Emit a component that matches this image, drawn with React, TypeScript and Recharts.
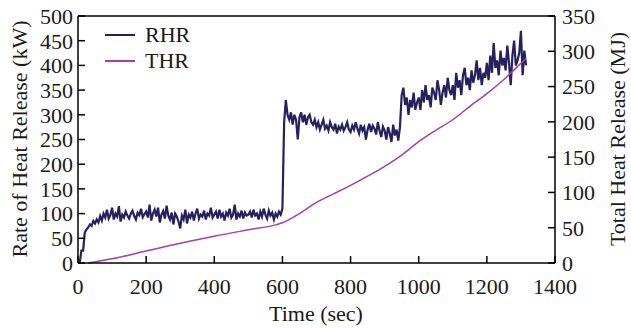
import { LineChart, Line, XAxis, YAxis, ReferenceLine } from 'recharts';

// RHR sampled every 5 s, starting at t = 0 (kW)
const RHR_STEP = 5;
const rhrValues = [
  0, 0, 25, 25, 62, 68, 72, 78, 75, 85, 80, 88, 82, 95, 86, 100, 92, 108, 90, 97,
  112, 88, 100, 94, 115, 84, 98, 92, 104, 96, 90, 100, 106, 95, 88, 102, 97, 110, 93, 99,
  104, 92, 118, 86, 100, 108, 94, 112, 82, 98, 105, 90, 116, 96, 88, 102, 78, 100, 94, 84,
  70, 96, 88, 108, 80, 98, 92, 104, 86, 100, 110, 90, 98, 94, 106, 88, 100, 96, 112, 92,
  98, 104, 90, 108, 94, 100, 86, 102, 96, 110, 92, 98, 118, 88, 100, 94, 106, 90, 102, 96,
  98, 104, 92, 108, 96, 100, 88, 104, 94, 110, 98, 90, 106, 96, 102, 88, 100, 94, 104, 98,
  110, 285, 330, 300, 290, 305, 280, 300, 290, 250, 295, 305, 285, 300, 280, 295, 300, 285, 280, 290,
  275, 285, 270, 280, 290, 272, 278, 268, 285, 275, 270, 282, 262, 276, 270, 280, 268, 275, 285, 270,
  265, 278, 270, 285, 272, 262, 280, 268, 275, 250, 270, 282, 265, 278, 272, 260, 285, 268, 255, 276,
  268, 250, 275, 262, 245, 280, 258, 270, 248, 275, 340, 355, 320, 335, 300, 330, 315, 345, 310, 325,
  335, 310, 350, 325, 360, 330, 340, 315, 355, 345, 330, 370, 350, 320, 345, 360, 335, 375, 350, 340,
  360, 330, 385, 355, 370, 340, 380, 395, 360, 375, 350, 390, 365, 380, 410, 370, 395, 360, 385, 375,
  405, 370, 420, 385, 445, 395, 410, 380, 430, 400, 415, 390, 440, 405, 360, 420, 450, 400, 410, 425,
  470, 380, 430, 400,
];

// THR read at irregular times (MJ)
const thrTimes = [30, 100, 200, 300, 400, 500, 580, 600, 650, 700, 750, 800, 850, 900, 950, 1000, 1050, 1100, 1150, 1200, 1250, 1300, 1315];
const thrValues = [0, 6, 17, 28, 38, 47, 54, 57, 70, 86, 98, 110, 123, 137, 153, 172, 188, 203, 222, 240, 260, 283, 290];

const xTicks = [0, 200, 400, 600, 800, 1000, 1200, 1400];
const leftTicks = [0, 50, 100, 150, 200, 250, 300, 350, 400, 450, 500];
const rightTicks = [0, 50, 100, 150, 200, 250, 300, 350];

const rhrData = rhrValues.map((v, i) => ({ time: i * RHR_STEP, rhr: v }));
const thrData = thrTimes.map((t, i) => ({ time: t, thr: thrValues[i] }));

const FONT = '"Liberation Serif", "Times New Roman", serif';
const INK = '#1a1a1a';
const RHR_COLOR = '#25215e';
const THR_COLOR = '#a53ea7';
const tickStyle = { fill: INK, fontSize: 22, fontFamily: FONT };

function LegendBox() {
  const items = [
    { name: 'RHR', color: RHR_COLOR },
    { name: 'THR', color: THR_COLOR },
  ];
  return (
    <div style={{ position: 'absolute', left: 100, top: 22, fontFamily: FONT, fontSize: 22, color: INK, lineHeight: '26px' }}>
      {items.map((it) => (
        <div key={it.name} style={{ display: 'flex', alignItems: 'center', height: 26 }}>
          <svg width={40} height={10}>
            <line x1={5} y1={5} x2={35} y2={5} stroke={it.color} strokeWidth={2} />
          </svg>
          <span style={{ marginLeft: 5 }}>{it.name}</span>
        </div>
      ))}
    </div>
  );
}

export default function App() {
  return (
    <div style={{ position: 'absolute', left: 0, top: 0, width: 631, height: 329, background: '#fff' }}>
      <LineChart width={631} height={329} margin={{ top: 16, right: 0, left: 0, bottom: 0 }}>
        <XAxis
          dataKey="time"
          type="number"
          domain={[0, 1400]}
          ticks={xTicks}
          height={66}
          stroke="#000"
          strokeWidth={1.5}
          tickSize={-7}
          tickMargin={22}
          tick={tickStyle}
          allowDuplicatedCategory={false}
          label={{
            content: () => (
              <text x={316} y={321} textAnchor="middle" fontFamily={FONT} fontSize={22} fill={INK}>
                Time (sec)
              </text>
            ),
          }}
        />
        <YAxis
          yAxisId="left"
          orientation="left"
          domain={[0, 500]}
          ticks={leftTicks}
          width={78}
          stroke="#000"
          strokeWidth={1.5}
          tickSize={-7}
          tickMargin={12}
          tick={tickStyle}
          interval={0}
          label={{
            content: () => (
              <text
                x={0}
                y={0}
                transform="translate(27,139) rotate(-90)"
                textAnchor="middle"
                fontFamily={FONT}
                fontSize={22}
                fill={INK}
              >
                Rate of Heat Release (kW)
              </text>
            ),
          }}
        />
        <YAxis
          yAxisId="right"
          orientation="right"
          domain={[0, 350]}
          ticks={rightTicks}
          width={76}
          stroke="#000"
          strokeWidth={1.5}
          tickSize={-7}
          tickMargin={14}
          tick={tickStyle}
          interval={0}
          label={{
            content: () => (
              <text
                x={0}
                y={0}
                transform="translate(625,139) rotate(-90)"
                textAnchor="middle"
                fontFamily={FONT}
                fontSize={22}
                fill={INK}
              >
                Total Heat Release (MJ)
              </text>
            ),
          }}
        />
        <ReferenceLine yAxisId="left" y={500} stroke="#000" strokeWidth={1.5} />
        <Line
          yAxisId="left"
          data={rhrData}
          dataKey="rhr"
          name="RHR"
          type="linear"
          stroke={RHR_COLOR}
          strokeWidth={2.2}
          dot={false}
          isAnimationActive={false}
        />
        <Line
          yAxisId="right"
          data={thrData}
          dataKey="thr"
          name="THR"
          type="monotone"
          stroke={THR_COLOR}
          strokeWidth={1.5}
          dot={false}
          isAnimationActive={false}
        />
      </LineChart>
      <LegendBox />
    </div>
  );
}
